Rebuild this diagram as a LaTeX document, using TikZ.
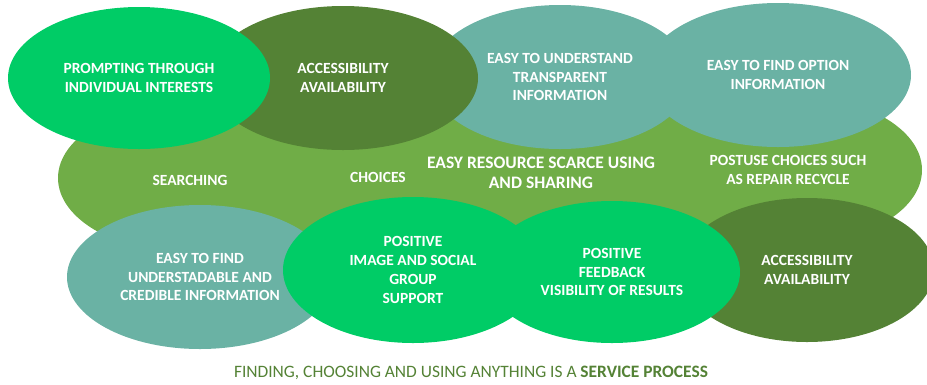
\documentclass[tikz,border=0pt]{standalone}
\usepackage{fontspec}
\setmainfont{Carlito}
\usetikzlibrary{shapes.geometric}

\definecolor{leafgreen}{RGB}{112,173,71}
\definecolor{mossgreen}{RGB}{84,130,53}
\definecolor{mintgreen}{RGB}{0,204,102}
\definecolor{seateal}{RGB}{106,178,164}

\begin{document}
\begin{tikzpicture}[
    x=1pt, y=-1pt,
    font=\bfseries\fontsize{15.5}{18.7}\selectfont,
    blob/.style={ellipse, inner sep=0pt, text=white, align=center,
      minimum width=266pt, minimum height=144pt},
    bandtext/.style={text=white, align=center},
  ]
  \useasboundingbox (0,0) rectangle (927,384);

  % light green band behind everything, text on top of it
  \foreach \cx/\cy/\rx/\ry in {190/178/132/75, 378/176/160/80, 541/173/180/85, 790/170/132/75}
    \fill[leafgreen] (\cx,\cy) ellipse [x radius=\rx, y radius=\ry];
  \node[bandtext] (search) at (190,180) {SEARCHING};
  \node[bandtext] (choice) at (378,177) {CHOICES};
  \node[bandtext, font=\bfseries\fontsize{17.5}{20}\selectfont] (share) at (541,173)
    {EASY RESOURCE SCARCE USING\\AND SHARING};
  \node[bandtext] (postuse) at (788,170) {POSTUSE CHOICES SUCH\\AS REPAIR RECYCLE};

  % top row
  \node[blob, fill=seateal] (findopt) at (778,75) {EASY TO FIND OPTION\\INFORMATION};
  \node[blob, fill=seateal, minimum width=262pt] (understand) at (560,77)
    {EASY TO UNDERSTAND\\TRANSPARENT\\INFORMATION};
  \node[blob, fill=mossgreen, minimum width=270pt] (access) at (343,78)
    {ACCESSIBILITY\\AVAILABILITY};
  \node[blob, fill=mintgreen, minimum width=262pt, minimum height=142pt] (prompt) at (139,78)
    {PROMPTING THROUGH\\INDIVIDUAL INTERESTS};

  % bottom row
  \node[blob, fill=mossgreen, minimum width=254pt] (avail) at (807,270)
    {ACCESSIBILITY\\AVAILABILITY};
  \node[blob, fill=seateal] (credible) at (200,277)
    {EASY TO FIND\\UNDERSTADABLE AND\\CREDIBLE INFORMATION};
  \node[blob, fill=mintgreen, minimum width=256pt, minimum height=142pt] (feedback) at (612,272)
    {POSITIVE\\FEEDBACK\\VISIBILITY OF RESULTS};
  \node[blob, fill=mintgreen, minimum width=260pt, minimum height=146pt] (social) at (413,270)
    {POSITIVE\\IMAGE AND SOCIAL\\GROUP\\SUPPORT};

  \node[font=\fontsize{17.4}{20}\selectfont, text=mossgreen] (caption) at (471,373)
    {FINDING, CHOOSING AND USING ANYTHING IS A \textbf{SERVICE PROCESS}};
\end{tikzpicture}
\end{document}
